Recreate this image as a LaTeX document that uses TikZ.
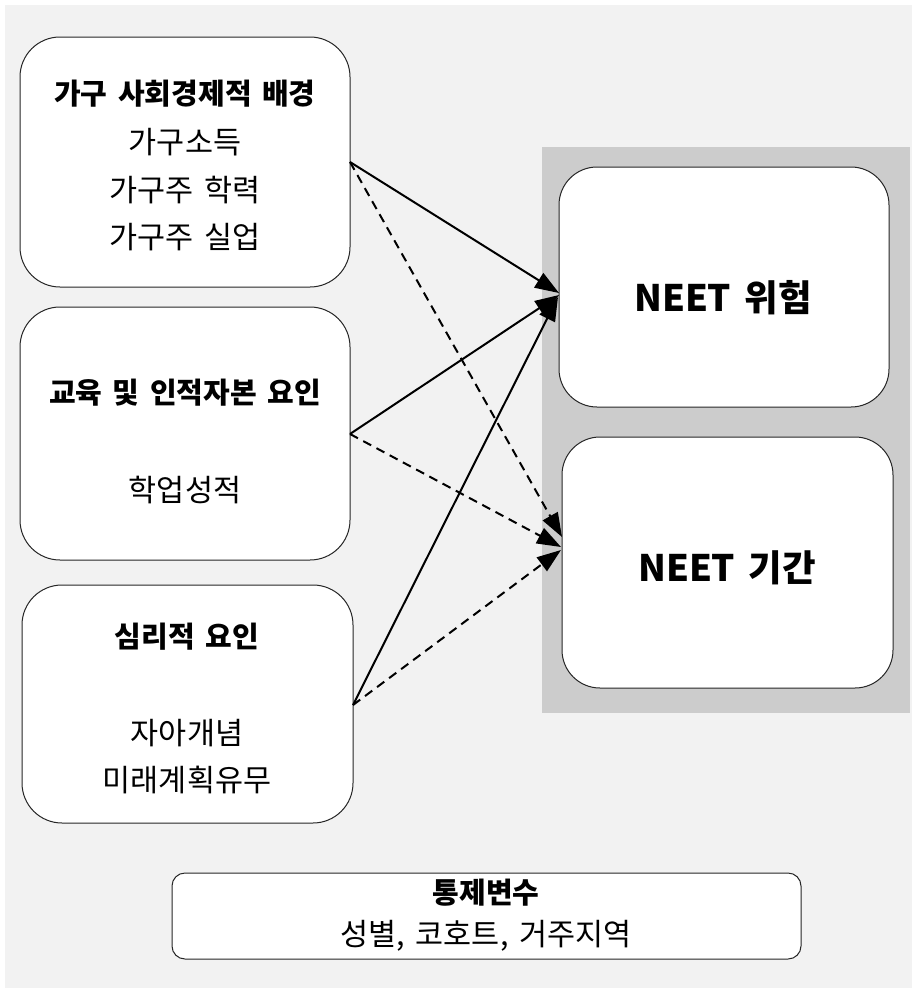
\documentclass[tikz,border=0pt]{standalone}
\usepackage{fontspec}
\setmainfont{Noto Sans CJK KR}[WordSpace=1.6]
\usetikzlibrary{arrows.meta}
\definecolor{bgc}{HTML}{F2F2F2}
\definecolor{panelc}{HTML}{CCCCCC}
\tikzset{
  rbox/.style={draw=black!85, line width=1pt, fill=white, rounded corners=#1},
  txt/.style={inner sep=0pt, anchor=center, font=\fontsize{30.5}{36}\selectfont},
  ttl/.style={inner sep=0pt, anchor=center, font=\fontsize{29}{34}\selectfont\bfseries},
  big/.style={inner sep=0pt, anchor=center, font=\fontsize{36.5}{42}\selectfont\bfseries},
  link/.style={line width=2pt, -{Triangle[length=24pt,width=17pt]}},
  dlink/.style={link, dash pattern=on 9pt off 6pt},
}
\begin{document}
\begin{tikzpicture}[x=1pt,y=-1pt]
\useasboundingbox (0,0) rectangle (912,988);
\fill[white] (0,0) rectangle (912,988);
\fill[bgc] (5,5) rectangle (912,988);
\fill[panelc] (542,147) rectangle (910,713);
% left boxes
\draw[rbox=40pt] (20,37) rectangle (350,287);
\draw[rbox=40pt] (20,307) rectangle (350,560);
\draw[rbox=40pt] (22,585) rectangle (353,823);
% right boxes
\draw[rbox=38pt] (559,167) rectangle (889,407);
\draw[rbox=38pt] (562,437) rectangle (893,688);
% bottom box
\draw[rbox=13pt] (172,873) rectangle (801,959);
% texts
\node[ttl] (t1) at (185,94) {가구 사회경제적 배경};
\node[txt] (t1a) at (185,142) {가구소득};
\node[txt] (t1b) at (185,190) {가구주 학력};
\node[txt] (t1c) at (185,237) {가구주 실업};
\node[ttl] (t2) at (185,393) {교육 및 인적자본 요인};
\node[txt] (t2a) at (185,490) {학업성적};
\node[ttl] (t3) at (187,637) {심리적 요인};
\node[txt] (t3a) at (187,733) {자아개념};
\node[txt] (t3b) at (187,780) {미래계획유무};
\node[big] (r1) at (723,298) {NEET 위험};
\node[big] (r2) at (727,568) {NEET 기간};
\node[ttl] (c1) at (486,893) {통제변수};
\node[txt] (c2) at (486,936) {성별, 코호트, 거주지역};
% anchor coordinates
\coordinate (s1) at (350,162);
\coordinate (s2) at (350,434);
\coordinate (s3) at (353,705);
\coordinate (e1a) at (559,293);
\coordinate (e1b) at (559,295);
\coordinate (e1c) at (558,297);
\coordinate (e2a) at (562,537);
\coordinate (e2b) at (561,547);
\coordinate (e2c) at (561,550);
\draw[link] (s1) -- (e1a);
\draw[link] (s2) -- (e1b);
\draw[link] (s3) -- (e1c);
\draw[dlink] (s1) -- (e2a);
\draw[dlink] (s2) -- (e2b);
\draw[dlink] (s3) -- (e2c);
\end{tikzpicture}
\end{document}
